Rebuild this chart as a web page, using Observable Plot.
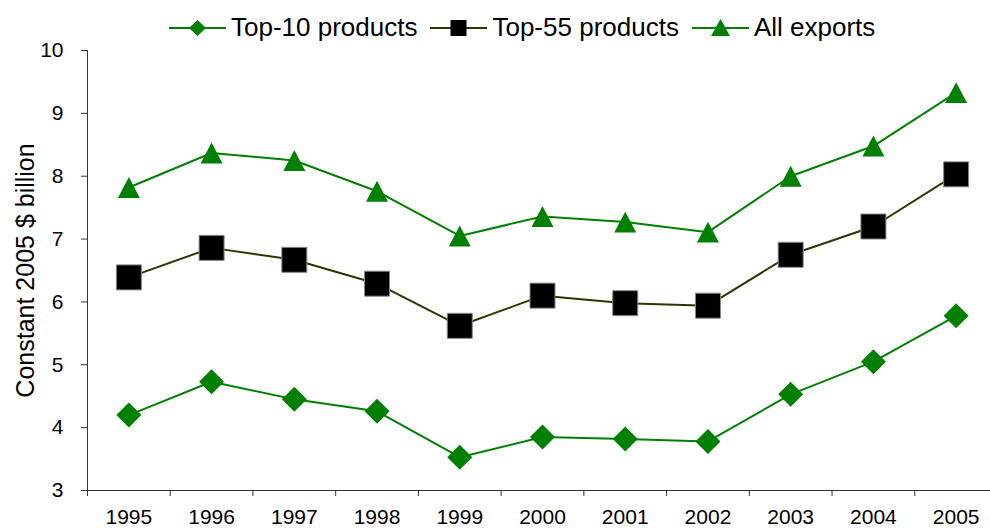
<!DOCTYPE html>
<html>
<head>
<meta charset="utf-8">
<script src="https://cdn.jsdelivr.net/npm/d3@7"></script>
<script src="https://cdn.jsdelivr.net/npm/@observablehq/plot@0.6"></script>
<style>
  html, body { margin: 0; padding: 0; background: #fff; }
  #wrap { position: relative; width: 990px; height: 529px; font-family: "Liberation Sans", Arial, sans-serif; }
  #legend { position: absolute; left: 169px; top: 12px; display: flex; align-items: center; font-size: 26px; color: #000; white-space: nowrap; }
  #legend .item { display: flex; align-items: center; margin-right: 13px; }
  #legend svg { display: block; margin-right: 5px; }
  #chart { position: absolute; left: 0; top: 0; }
</style>
</head>
<body>
<div id="wrap">
  <div id="chart"></div>
  <div id="legend"></div>
</div>
<script>
const years = [1995, 1996, 1997, 1998, 1999, 2000, 2001, 2002, 2003, 2004, 2005];
const top10 = [4.20, 4.73, 4.45, 4.26, 3.53, 3.85, 3.82, 3.78, 4.53, 5.05, 5.78];
const top55 = [6.39, 6.86, 6.67, 6.29, 5.62, 6.10, 5.98, 5.94, 6.75, 7.20, 8.03];
const allExports = [7.82, 8.37, 8.25, 7.76, 7.05, 7.36, 7.27, 7.11, 8.00, 8.48, 9.33];
const seriesNames = ["Top-10 products", "Top-55 products", "All exports"];
const yTicks = [3, 4, 5, 6, 7, 8, 9, 10];
const yLabel = "Constant 2005 $ billion";

const GREEN = "#008000";
const DARK = "#333300";

const diamond = { draw(ctx, size) { const r = Math.sqrt(size / Math.PI); ctx.moveTo(0, -r); ctx.lineTo(r, 0); ctx.lineTo(0, r); ctx.lineTo(-r, 0); ctx.closePath(); } };
const square = { draw(ctx, size) { const r = Math.sqrt(size / Math.PI); ctx.moveTo(-r, -r); ctx.lineTo(r, -r); ctx.lineTo(r, r); ctx.lineTo(-r, r); ctx.closePath(); } };
const triangle = { draw(ctx, size) { const r = Math.sqrt(size / Math.PI); ctx.moveTo(0, -0.95 * r); ctx.lineTo(r, 0.95 * r); ctx.lineTo(-r, 0.95 * r); ctx.closePath(); } };

const table = (vals) => years.map((y, i) => ({ year: y, value: vals[i] }));
const d10 = table(top10), d55 = table(top55), dAll = table(allExports);
const bounds = years.map(y => y - 0.5).concat([years[years.length - 1] + 0.5]);

const chart = Plot.plot({
  width: 990,
  height: 529,
  marginLeft: 87,
  marginRight: 0,
  marginTop: 50,
  marginBottom: 39,
  style: { fontFamily: "Liberation Sans, Arial, sans-serif", fontSize: "21px", background: "transparent", overflow: "visible" },
  x: { type: "linear", domain: [bounds[0], bounds[bounds.length - 1]], range: [87, 997] },
  y: { domain: [3, 10] },
  marks: [
    Plot.axisY({ ticks: yTicks, tickSize: 6, tickPadding: 18, tickFormat: d => String(d), stroke: "#333", fill: "#000", label: null, fontSize: 21 }),
    Plot.axisX(years, { tickSize: 0, tickPadding: 19, tickFormat: d => String(d), fill: "#000", label: null, fontSize: 21 }),
    Plot.axisX(bounds, { tickSize: 6, tickFormat: () => "", stroke: "#333", label: null }),
    Plot.ruleY([3], { stroke: "#333", strokeWidth: 1 }),
    Plot.ruleX([bounds[0]], { stroke: "#333", strokeWidth: 1 }),
    Plot.text([yLabel], { frameAnchor: "left", rotate: -90, dx: -62, textAnchor: "middle", fontSize: 25, fill: "#000" }),
    Plot.line(dAll, { x: "year", y: "value", stroke: GREEN, strokeWidth: 2 }),
    Plot.line(d55, { x: "year", y: "value", stroke: DARK, strokeWidth: 2 }),
    Plot.line(d10, { x: "year", y: "value", stroke: GREEN, strokeWidth: 2 }),
    Plot.dot(dAll, { x: "year", y: "value", symbol: triangle, r: 11, fill: GREEN, stroke: "none" }),
    Plot.dot(d55, { x: "year", y: "value", symbol: square, r: 12.5, fill: "#000", stroke: "#888", strokeWidth: 1 }),
    Plot.dot(d10, { x: "year", y: "value", symbol: diamond, r: 12.5, fill: GREEN, stroke: "none" })
  ]
});
document.getElementById("chart").appendChild(chart);

// Legend
const legendSpecs = [
  { name: seriesNames[0], color: GREEN, marker: "diamond", mfill: GREEN },
  { name: seriesNames[1], color: DARK, marker: "square", mfill: "#000" },
  { name: seriesNames[2], color: GREEN, marker: "triangle", mfill: GREEN }
];
const legend = d3.select("#legend");
for (const s of legendSpecs) {
  const item = legend.append("div").attr("class", "item");
  const svg = item.append("svg").attr("width", 57).attr("height", 26);
  svg.append("line").attr("x1", 0).attr("x2", 57).attr("y1", 13).attr("y2", 13).attr("stroke", s.color).attr("stroke-width", 2);
  if (s.marker === "diamond") {
    svg.append("path").attr("d", "M28.5,5 L37,13 L28.5,21 L20,13 Z").attr("fill", s.mfill);
  } else if (s.marker === "square") {
    svg.append("rect").attr("x", 20.5).attr("y", 5).attr("width", 16).attr("height", 16).attr("fill", s.mfill);
  } else {
    svg.append("path").attr("d", "M28.5,4 L38,21 L19,21 Z").attr("fill", s.mfill);
  }
  item.append("span").text(s.name);
}
</script>
</body>
</html>
